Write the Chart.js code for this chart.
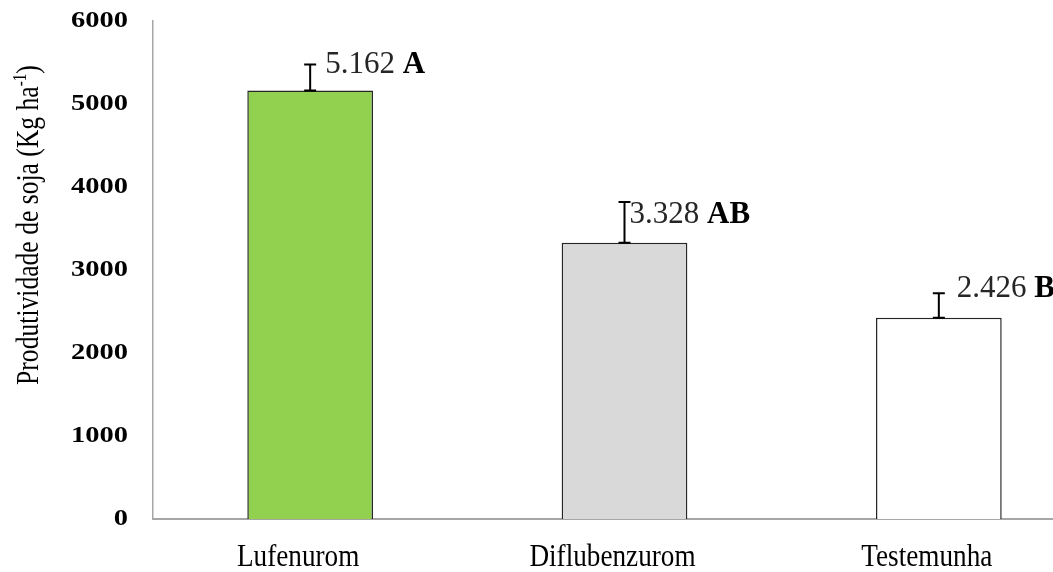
<!DOCTYPE html>
<html lang="pt">
<head>
<meta charset="utf-8">
<title>Produtividade de soja</title>
<script src="https://cdn.jsdelivr.net/npm/chart.js@4/dist/chart.umd.min.js"></script>
<style>
  html, body { margin: 0; padding: 0; background: #ffffff; overflow: hidden; }
  #wrap { position: relative; width: 1100px; height: 572px; }
</style>
</head>
<body>
<div id="wrap"><canvas id="chart"></canvas></div>
<script>
// Treatments and mean soybean yield (kg/ha)
const categories = ['Lufenurom', 'Diflubenzurom', 'Testemunha'];
const yieldValues = [5162, 3328, 2426];
// Upper error (standard error) for each treatment
const errorValues = [315, 490, 295];
// Significance letters shown next to each mean
const groupLetters = ['A', 'AB', 'B'];
// Y axis range and step
const yMin = 0;
const yMax = 6000;
const yStep = 1000;

const barColors = ['#92D050', '#D9D9D9', '#FFFFFF'];
const SERIF = '"Liberation Serif", "Times New Roman", serif';

// Thousands separator in Brazilian style: 5162 -> "5.162"
function formatBR(v) {
  return String(v).replace(/\B(?=(\d{3})+(?!\d))/g, '.');
}

function scaledText(ctx, text, x, y, sx, align) {
  ctx.save();
  ctx.translate(x, y);
  ctx.scale(sx, 1);
  ctx.textAlign = align;
  ctx.fillText(text, 0, 0);
  ctx.restore();
}

// Axis tick labels and the rotated y title, drawn with condensed/stretched type
const axisText = {
  id: 'axisText',
  afterDraw(chart) {
    const ctx = chart.ctx;
    const ys = chart.scales.y;
    const xs = chart.scales.x;
    ctx.save();
    ctx.fillStyle = '#000000';

    // y tick labels
    ctx.font = 'bold 23px ' + SERIF;
    ctx.textBaseline = 'middle';
    ys.ticks.forEach(t => {
      scaledText(ctx, String(t.value), 128, ys.getPixelForValue(t.value), 1.24, 'right');
    });

    // category labels
    ctx.font = '32px ' + SERIF;
    ctx.textBaseline = 'alphabetic';
    xs.getLabels().forEach((lab, i) => {
      scaledText(ctx, lab, xs.getPixelForTick(i) - 12, 566, 0.85, 'center');
    });

    // y title with superscript
    const main = 'Produtividade de soja (Kg ha';
    const sup = '-1';
    const tail = ')';
    const fMain = '32px ' + SERIF;
    const fSup = '19px ' + SERIF;
    ctx.font = fMain;
    const wMain = ctx.measureText(main).width;
    const wTail = ctx.measureText(tail).width;
    ctx.font = fSup;
    const wSup = ctx.measureText(sup).width;
    const total = wMain + wSup + wTail;
    const cy = (ys.top + ys.bottom) / 2 - 45;
    ctx.translate(38, cy);
    ctx.rotate(-Math.PI / 2);
    ctx.scale(0.8, 1);
    ctx.textAlign = 'left';
    ctx.textBaseline = 'alphabetic';
    let x0 = -total / 2;
    ctx.font = fMain;
    ctx.fillText(main, x0, 0);
    ctx.font = fSup;
    ctx.fillText(sup, x0 + wMain, -12);
    ctx.font = fMain;
    ctx.fillText(tail, x0 + wMain + wSup, 0);
    ctx.restore();
  }
};

// Upper error bars plus the mean / letter annotation
const errorAndLabels = {
  id: 'errorAndLabels',
  afterDatasetsDraw(chart, args, opts) {
    const ctx = chart.ctx;
    const ys = chart.scales.y;
    const meta = chart.getDatasetMeta(0);
    ctx.save();
    meta.data.forEach((bar, i) => {
      const v = yieldValues[i];
      const yTop = ys.getPixelForValue(v);
      const yErr = ys.getPixelForValue(v + errorValues[i]);
      const x = bar.x;
      ctx.strokeStyle = '#000000';
      ctx.lineWidth = 2;
      ctx.beginPath();
      ctx.moveTo(x, yTop);
      ctx.lineTo(x, yErr);
      ctx.moveTo(x - 6, yErr);
      ctx.lineTo(x + 6, yErr);
      ctx.moveTo(x - 6, yTop);
      ctx.lineTo(x + 6, yTop);
      ctx.stroke();

      const off = opts.offsets[i];
      const tx = x + off.dx;
      const ty = yErr + off.dy;
      ctx.textBaseline = 'alphabetic';
      ctx.textAlign = 'left';
      ctx.font = '31px ' + SERIF;
      ctx.fillStyle = '#262626';
      const num = formatBR(v) + ' ';
      ctx.fillText(num, tx, ty);
      const w = ctx.measureText(num).width;
      ctx.font = 'bold 31px ' + SERIF;
      ctx.fillStyle = '#000000';
      ctx.fillText(groupLetters[i], tx + w, ty);
    });
    ctx.restore();
  }
};

new Chart(document.getElementById('chart'), {
  type: 'bar',
  data: {
    labels: categories,
    datasets: [{
      data: yieldValues,
      backgroundColor: barColors,
      borderColor: '#262626',
      borderWidth: 1.5,
      borderSkipped: 'start',
      categoryPercentage: 1.0,
      barPercentage: 0.40
    }]
  },
  options: {
    responsive: true,
    maintainAspectRatio: false,
    animation: false,
    devicePixelRatio: 1,
    layout: { padding: { top: 21, right: 4, left: 0, bottom: 0 } },
    plugins: {
      legend: { display: false },
      tooltip: { enabled: false },
      errorAndLabels: {
        offsets: [
          { dx: 15, dy: 9 },
          { dx: 5, dy: 21 },
          { dx: 18, dy: 4 }
        ]
      }
    },
    scales: {
      x: {
        grid: { display: false },
        border: { display: true, color: '#a6a6a6', width: 2 },
        ticks: { display: false },
        afterFit(scale) { scale.height = 53; }
      },
      y: {
        min: yMin,
        max: yMax,
        grid: { display: false },
        border: { display: true, color: '#a6a6a6', width: 1.5 },
        ticks: { display: false, stepSize: yStep },
        afterFit(scale) { scale.width = 153; }
      }
    }
  },
  plugins: [errorAndLabels, axisText]
});
</script>
</body>
</html>
